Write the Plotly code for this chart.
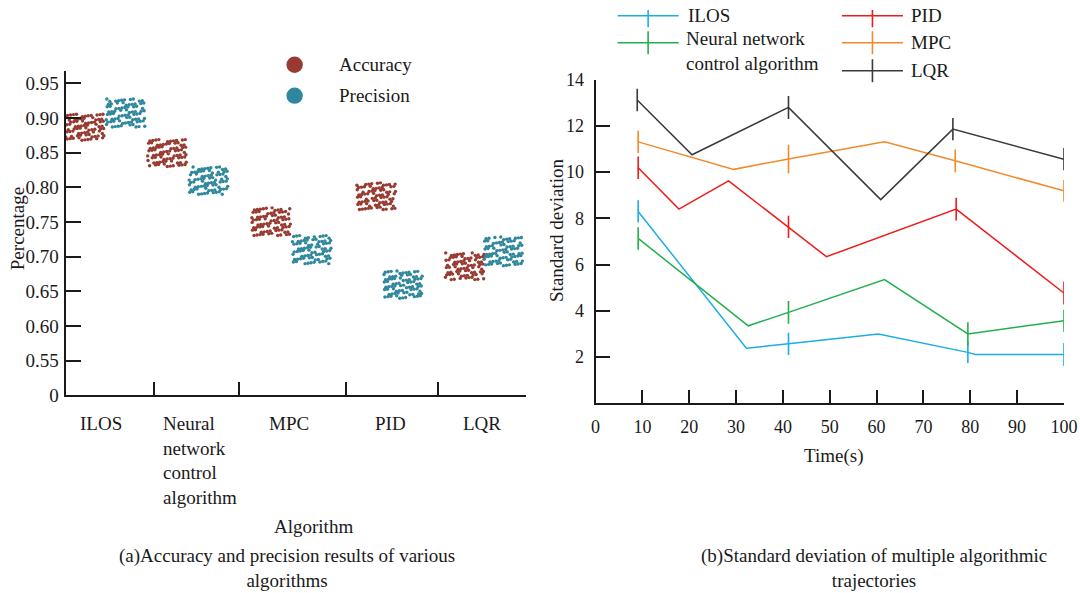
import plotly.graph_objects as go

W, H = 1080, 593
FONT = "Liberation Serif, Times New Roman, serif"
INK = "#1a1a1a"

# ---------------- data: panel (a) ----------------
algorithms = ["ILOS", "Neural<br>network<br>control<br>algorithm", "MPC", "PID", "LQR"]
accuracy_low = [0.867, 0.829, 0.729, 0.767, 0.666]
accuracy_high = [0.906, 0.870, 0.771, 0.807, 0.706]
precision_low = [0.886, 0.789, 0.689, 0.639, 0.686]
precision_high = [0.928, 0.830, 0.731, 0.680, 0.729]
pct_tickvals = [0.50, 0.55, 0.60, 0.65, 0.70, 0.75, 0.80, 0.85, 0.90, 0.95]
pct_ticktext = ["0", "0.55", "0.60", "0.65", "0.70", "0.75", "0.80", "0.85", "0.90", "0.95"]

# ---------------- data: panel (b) ----------------
ilos_t = [9.1, 32.2, 41.2, 60.4, 79.5, 81.1, 100]
ilos_sd = [8.30, 2.38, 2.57, 3.00, 2.20, 2.11, 2.11]
ilos_err = [0.48, 0, 0.48, 0, 0.46, 0, 0.50]

nn_t = [9.1, 32.6, 41.2, 61.7, 79.5, 100]
nn_sd = [7.13, 3.35, 3.93, 5.35, 3.00, 3.57]
nn_err = [0.49, 0, 0.49, 0, 0.50, 0.48]

pid_t = [9.1, 17.8, 28.4, 41.2, 49.3, 77.0, 100]
pid_sd = [10.19, 8.40, 9.62, 7.63, 6.34, 8.40, 4.77]
pid_err = [0.49, 0, 0, 0.48, 0, 0.49, 0.50]

mpc_t = [9.1, 29.5, 41.2, 61.7, 76.8, 100]
mpc_sd = [11.31, 10.12, 10.57, 11.31, 10.49, 9.19]
mpc_err = [0.48, 0, 0.62, 0, 0.49, 0.47]

lqr_t = [8.9, 20.6, 41.2, 60.9, 76.3, 100]
lqr_sd = [13.12, 10.75, 12.80, 8.81, 11.86, 10.56]
lqr_err = [0.49, 0, 0.50, 0, 0.48, 0.48]

time_ticks = list(range(0, 101, 10))
sd_ticks = list(range(0, 15, 2))

# ---------------- layout constants ----------------
ACC_COLOR = "#983a30"
PREC_COLOR = "#2e879c"
series_b = [
    ("ILOS", ilos_t, ilos_sd, ilos_err, "#1aaee6"),
    ("Neural network control algorithm", nn_t, nn_sd, nn_err, "#22b04c"),
    ("PID", pid_t, pid_sd, pid_err, "#ef1b1b"),
    ("MPC", mpc_t, mpc_sd, mpc_err, "#f28a2a"),
    ("LQR", lqr_t, lqr_sd, lqr_err, "#3a3a3a"),
]
slot_edges = [0, 0.96, 1.88, 3.04, 4.04, 5]        # tick positions on panel (a)
acc_xc = [0.21, 1.10, 2.23, 3.37, 4.33]             # swarm centres (category units)
prec_xc = [0.65, 1.55, 2.67, 3.66, 4.75]
label_x = [0.38, 1.035, 2.42, 3.52, 4.52]
label_anchor = ["center", "left", "center", "center", "center"]
HW = 0.215
COLS, ROWS = 11, 8

# screen-position calibration
SX, OX = 0.981, 5.3
SY, OY = 0.966, 9.2


def swarm(xc, lo, hi, seed):
    """Dot texture filling the band [lo, hi] of one swarm."""
    xs, ys = [], []
    for r in range(ROWS):
        for c in range(COLS):
            if (r * 37 + c * 61 + seed * 23) % 13 == 0:
                continue
            jx = ((r * 13 + c * 7 + seed * 5) % 9) / 8 - 0.5
            jy = ((r * 11 + c * 29 + seed * 3) % 7) / 6 - 0.5
            xs.append(xc - HW + (c + 0.5 + 0.7 * jx) * (2 * HW / COLS))
            ys.append(lo + (r + 0.5 + 0.7 * jy) * ((hi - lo) / ROWS))
    return xs, ys


def px(x):
    return min(max(((x - OX) / SX) / W, 0.0), 1.0)


def py(y):
    return min(max(1 - ((y - OY) / SY) / H, 0.0), 1.0)


def txt(x, y, text, size=19, xanchor="center", yanchor="middle", angle=0, align="center",
        xref="paper"):
    return dict(xref=xref, yref="paper", x=x if xref != "paper" else px(x), y=py(y),
                text=text, xanchor=xanchor, yanchor=yanchor, textangle=angle, align=align,
                showarrow=False, font=dict(size=size, family=FONT, color=INK))


fig = go.Figure()

# panel (a) swarms
for i in range(len(algorithms)):
    xs, ys = swarm(acc_xc[i], accuracy_low[i], accuracy_high[i], i * 2 + 1)
    fig.add_trace(go.Scatter(x=xs, y=ys, mode="markers", xaxis="x", yaxis="y",
                             marker=dict(size=3.4, color=ACC_COLOR), showlegend=False,
                             name="Accuracy"))
for i in range(len(algorithms)):
    xs, ys = swarm(prec_xc[i], precision_low[i], precision_high[i], i * 2 + 2)
    fig.add_trace(go.Scatter(x=xs, y=ys, mode="markers", xaxis="x", yaxis="y",
                             marker=dict(size=3.4, color=PREC_COLOR), showlegend=False,
                             name="Precision"))

# panel (b) lines
for name, t, sd, err, col in series_b:
    fig.add_trace(go.Scatter(
        x=t, y=sd, mode="lines", xaxis="x2", yaxis="y2", name=name, showlegend=False,
        line=dict(color=col, width=1.5),
        error_y=dict(type="data", array=err, visible=True, width=0, thickness=1.6, color=col),
    ))

axis_common = dict(showline=True, linewidth=2, linecolor=INK, showgrid=False, zeroline=False,
                   ticks="inside", tickwidth=2, tickcolor=INK, ticklabeloverflow="allow")

shapes = []
annotations = []

# legend (a)
for yy, col, label in [(64, ACC_COLOR, "Accuracy"), (95, PREC_COLOR, "Precision")]:
    shapes.append(dict(type="circle", xref="paper", yref="paper",
                       x0=px(286.3), x1=px(302.7), y0=py(yy + 8.2), y1=py(yy - 8.2),
                       fillcolor=col, line=dict(width=0)))
    annotations.append(txt(337, yy, label, xanchor="left"))

# legend (b)
legend_pos = [(617, 678, 15, 685), (617, 678, 42, 685), (841, 902, 15, 908),
              (841, 902, 42, 908), (841, 902, 70, 908)]
legend_text = ["ILOS", "Neural network<br>control algorithm", "PID", "MPC", "LQR"]
for (x0, x1, yy, lx), (name, t, sd, err, col), label in zip(legend_pos, series_b, legend_text):
    shapes.append(dict(type="line", xref="paper", yref="paper", x0=px(x0), x1=px(x1),
                       y0=py(yy), y1=py(yy), line=dict(color=col, width=1.6)))
    xm = (x0 + x1) / 2
    shapes.append(dict(type="line", xref="paper", yref="paper", x0=px(xm), x1=px(xm),
                       y0=py(yy - 11.5), y1=py(yy + 11.5), line=dict(color=col, width=1.6)))
    if "<br>" in label:
        annotations.append(txt(lx - 2, yy - 17, label, xanchor="left", yanchor="top",
                               align="left"))
    else:
        annotations.append(txt(lx, yy, label, xanchor="left"))

# category labels (a)
for lab, lx, anc in zip(algorithms, label_x, label_anchor):
    annotations.append(txt(lx, 410.5, lab, xanchor=anc, yanchor="top", align="left", xref="x"))

# axis titles and captions
annotations += [
    txt(18, 228, "Percentage", angle=-90),
    txt(313, 526, "Algorithm"),
    txt(287, 568.5, "(a)Accuracy and precision results of various<br>algorithms"),
    txt(556, 230, "Standard deviation", angle=-90),
    txt(833, 456, "Time(s)"),
    txt(873, 568.5, "(b)Standard deviation of multiple algorithmic<br>trajectories"),
]

fig.update_layout(
    width=W, height=H, margin=dict(l=0, r=0, t=0, b=0),
    paper_bgcolor="white", plot_bgcolor="white",
    font=dict(family=FONT, size=19, color=INK),
    showlegend=False,
    xaxis=dict(domain=[px(65.8), px(526)], range=[0, 5], tickvals=slot_edges,
               showticklabels=False, ticklen=13, anchor="y", **axis_common),
    yaxis=dict(domain=[py(395), py(70)], range=[0.5, 0.968], tickvals=pct_tickvals,
               ticktext=pct_ticktext, ticklen=15, anchor="x", ticklabelstandoff=1,
               tickfont=dict(size=19), **axis_common),
    xaxis2=dict(domain=[px(595), min(px(1066), 0.998)], range=[0, 100], tickvals=time_ticks,
                ticklen=13, anchor="y2", tickfont=dict(size=18), ticklabelstandoff=6,
                **axis_common),
    yaxis2=dict(domain=[py(403), py(79)], range=[0, 14], tickvals=sd_ticks,
                ticktext=["" if v == 0 else str(v) for v in sd_ticks], ticklen=14,
                anchor="x2", tickfont=dict(size=18), ticklabelstandoff=6, **axis_common),
    shapes=shapes,
    annotations=annotations,
)

fig.write_html("out.html",
               post_script="document.body.style.margin='0';document.body.style.overflow='hidden';")
